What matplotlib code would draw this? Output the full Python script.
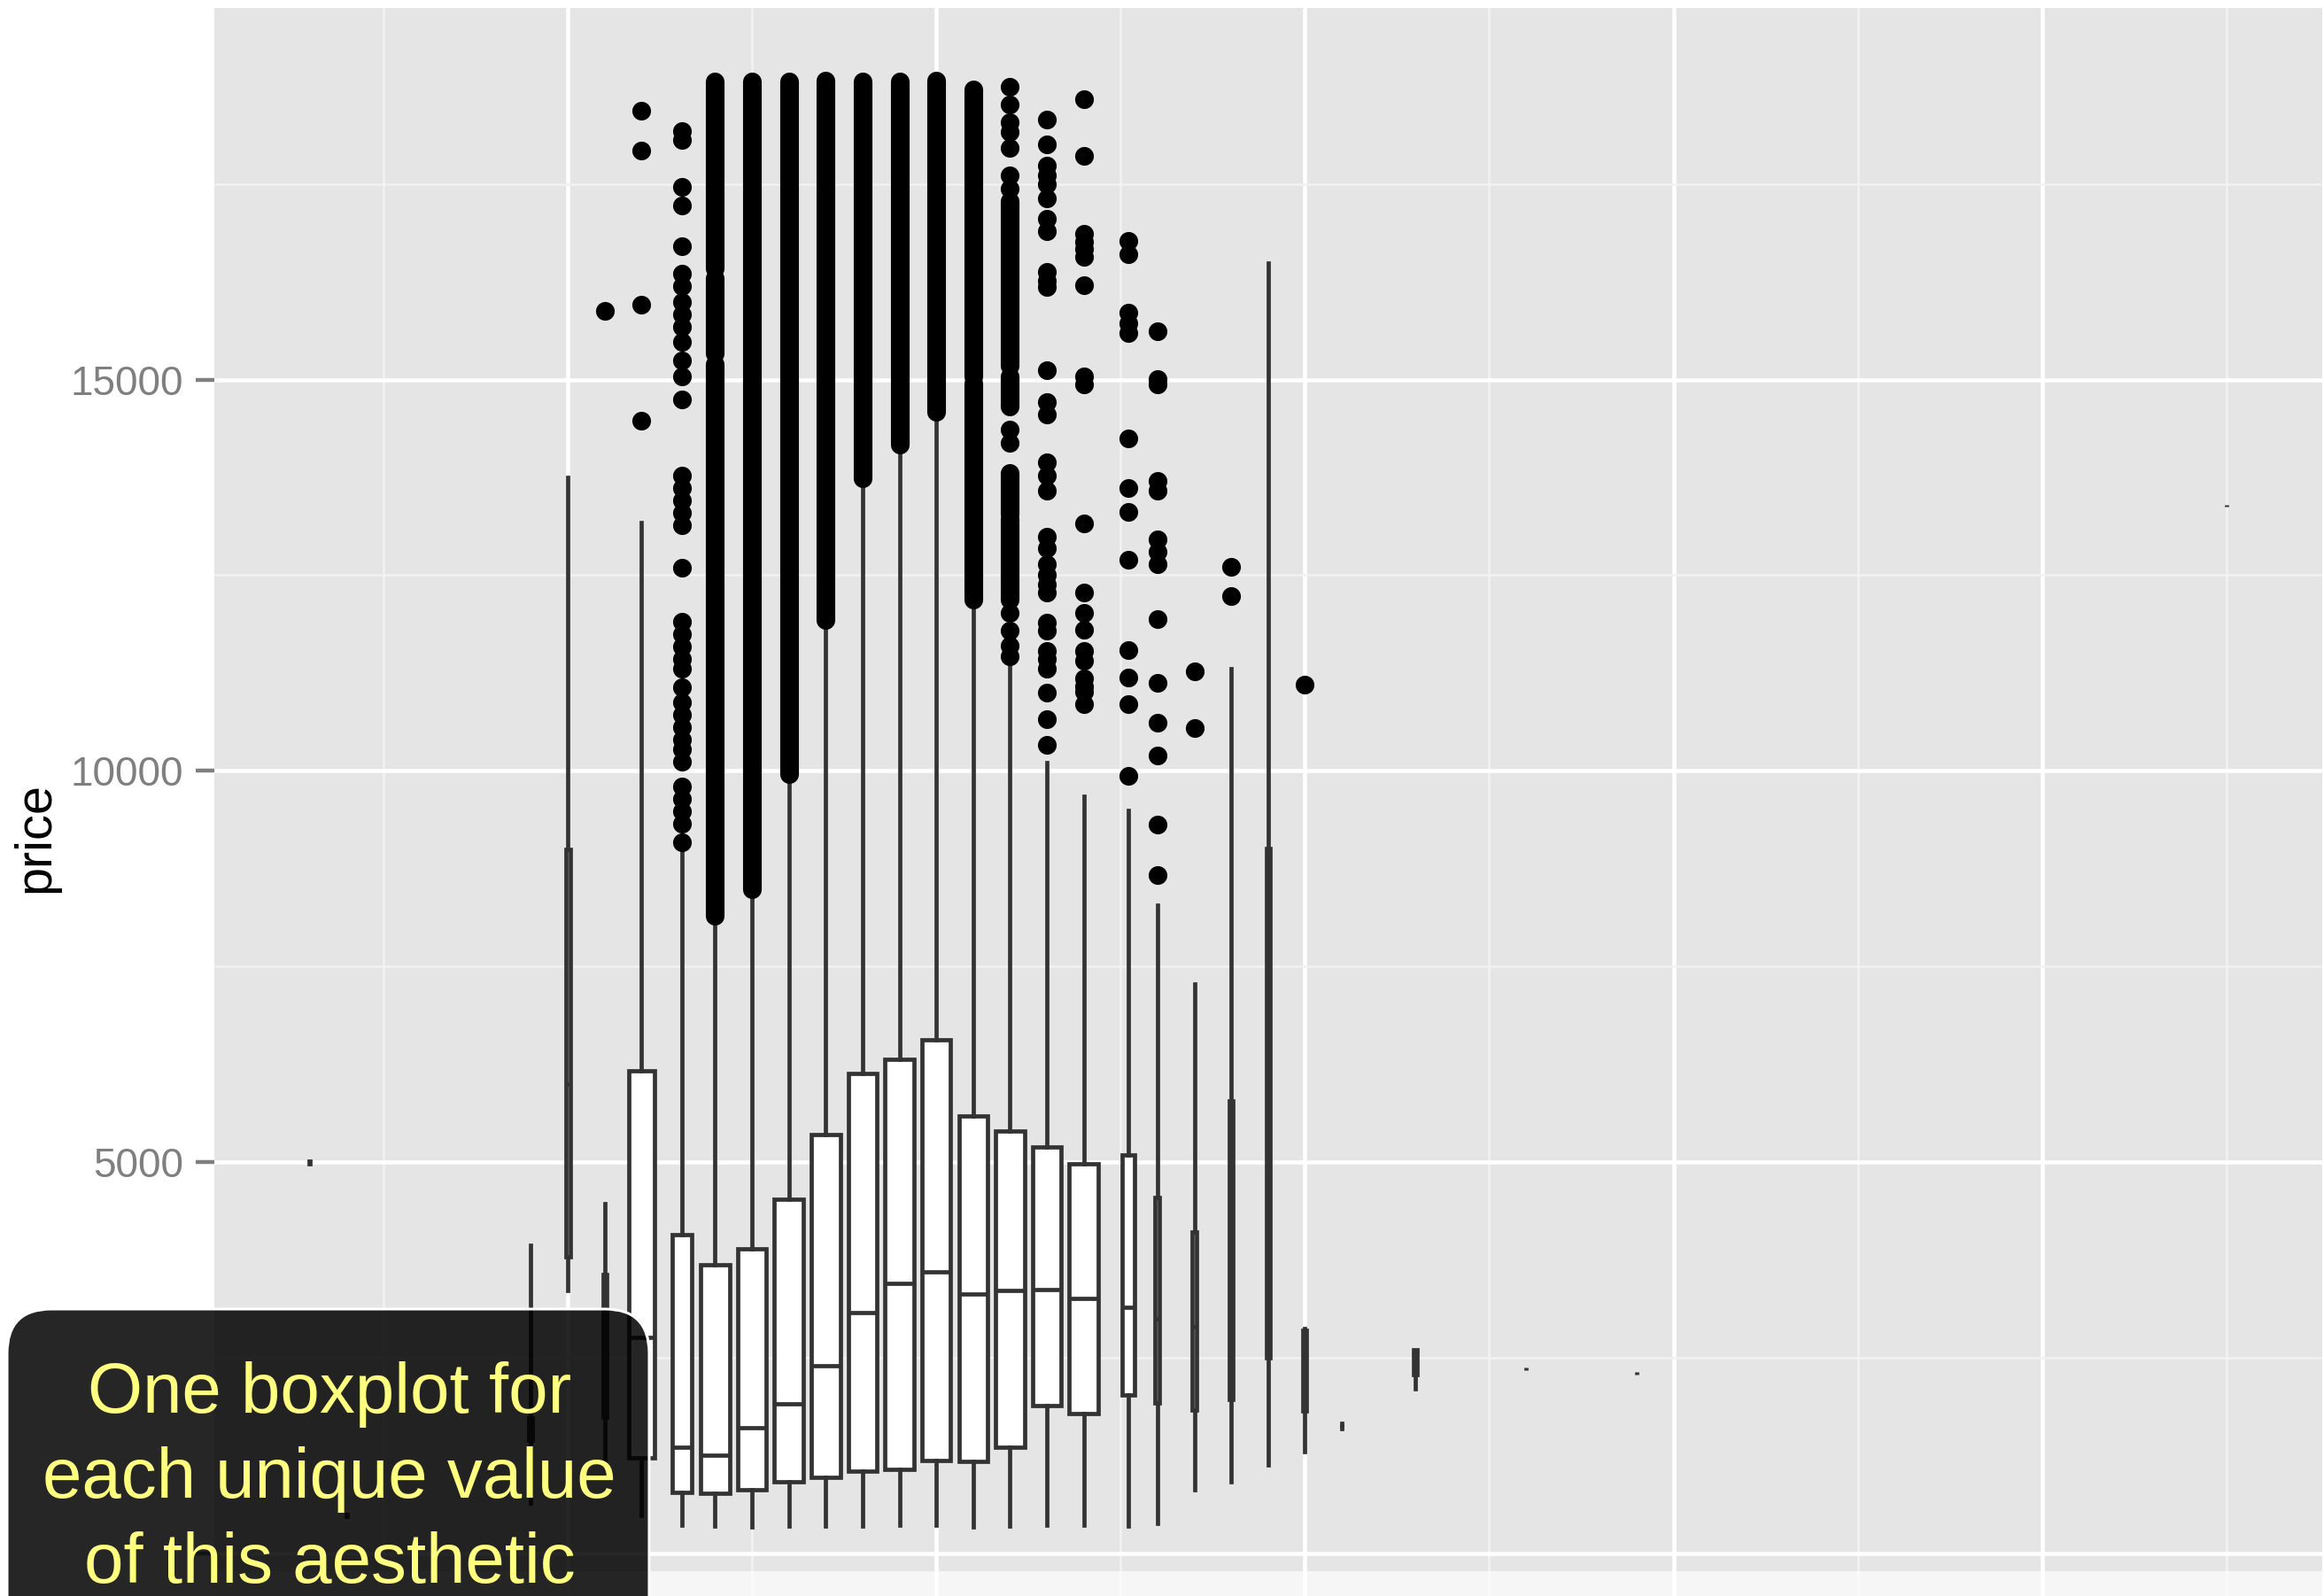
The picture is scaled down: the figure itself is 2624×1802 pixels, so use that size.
import matplotlib
matplotlib.use("Agg")
import matplotlib.pyplot as plt
from matplotlib.patches import FancyBboxPatch, Rectangle
from matplotlib.transforms import IdentityTransform

plt.rcParams['font.family'] = ['Liberation Sans', 'DejaVu Sans']

# price by table: one box for every distinct table value
table = [43, 44, 49, 50, 51, 52, 53.1, 54, 55, 56, 57, 58, 59, 60, 61, 62, 63,
         64, 65.2, 66, 67, 68, 69, 70, 71, 73, 76, 79, 95]
box_width = [0.01, 0.01, 0.1, 0.12, 0.1, 0.69, 0.52, 0.78, 0.78, 0.78, 0.78,
             0.78, 0.78, 0.78, 0.78, 0.78, 0.78, 0.78, 0.34, 0.12, 0.1, 0.1,
             0.1, 0.1, 0.02, 0.1, 0.01, 0.01, 0.01]
whisk_lo = [4985, 480, 650, 3360, 1165, 487, 367, 356, 341, 356, 356, 356, 366,
            367, 341, 356, 366, 366, 346, 382, 813, 914, 1128, 1305, 1600,
            2101, 2345, 2282, 13372]
q1 = [4985, 480, 1450, 3788, 1740, 1228, 787, 772, 813, 914, 975, 1051, 1076,
      1193, 1178, 1360, 1887, 1786, 2029, 1928, 1836, 1968, 2497, 1818, 1612,
      2290, 2345, 2282, 13372]
median = [4997, 490, 1600, 6000, 2600, 2763, 1355, 1259, 1613, 1912, 2399,
          3078, 3448, 3600, 3321, 3362, 3372, 3255, 3144, 3000, 2900, 3500,
          4500, 2200, 1633, 2450, 2361, 2299, 13387]
q3 = [5010, 500, 1730, 8997, 3560, 6170, 4071, 3686, 3894, 4533, 5348, 6134,
      6311, 6565, 5592, 5399, 5196, 4984, 5095, 4553, 4107, 5789, 9012, 2855,
      1655, 2603, 2378, 2316, 13400]
whisk_hi = [5010, 500, 3940, 13750, 4470, 13176, 8970, 8080, 8440, 9920,
            11880, 13700, 14120, 14540, 12140, 11403, 10104, 9682, 9494, 8284,
            7276, 11308, 16494, 2880, 1667, 2603, 2378, 2316, 13400]

# single outliers per table value
outliers = {
    51: [15876],
    52: [14470, 15955, 17924, 18432],
    53.1: [9089, 9327, 9486, 9644, 9803, 10121, 10279, 10398, 10557, 10716,
           10875, 11073, 11311, 11430, 11589, 11748, 11907, 12597, 13137,
           13296, 13455, 13613, 13772, 14741, 15042, 15241, 15479, 15677,
           15836, 15995, 16193, 16352, 16709, 17225, 17463, 18059, 18178],
    62: [11468, 11598, 11793, 12020, 14197, 14359, 17444, 17607, 17964,
         18159, 18289, 18516, 18744],
    63: [10331, 10656, 11000, 11306, 11435, 11533, 11793, 11890, 12280,
         12377, 12507, 12637, 12845, 12995, 13579, 13774, 13937, 14554,
         14716, 15119, 16178, 16262, 16372, 16892, 17055, 17315, 17496,
         17607, 17737, 18010, 18322],
    64: [10851, 11013, 11078, 11176, 11403, 11533, 11806, 12020, 12280,
         13157, 14944, 15041, 16210, 16567, 16665, 16762, 16860, 17854, 18581],
    65.2: [9942, 10851, 11195, 11546, 12702, 13307, 13612, 14249, 15593,
           15723, 15853, 16600, 16775],
    66: [8665, 9314, 10201, 10611, 11124, 11936, 12637, 12800, 12962, 13579,
         13709, 14943, 15009, 15613],
    67: [10546, 11274],
    68: [12235, 12605],
    70: [11106],
}

# stretches where outliers overlap into a solid column: (table, from, to)
outlier_runs = [
    (54, 8150, 15200), (54, 15330, 16300), (54, 16420, 18812),
    (55, 8493, 18813), (56, 9962, 18813), (57, 11923, 18818),
    (58, 13742, 18809), (59, 14164, 18809), (60, 14586, 18823),
    (61, 12183, 14950), (61, 15040, 18711),
    (62, 12183, 13222), (62, 13287, 13807), (62, 14651, 15041),
    (62, 15171, 17282),
]

y_major = [0, 5000, 10000, 15000]
y_labels = ['', '5000', '10000', '15000']   # 0 sits behind the callout
y_minor = [2500, 7500, 12500, 17500]
x_major = [50, 60, 70, 80, 90]
x_minor = [45, 55, 65, 75, 85, 95]

W, H = 2624, 1802
fig = plt.figure(figsize=(W / 100, H / 100), dpi=100)
ax = fig.add_axes([241.5 / W, -5 / H, 2380.5 / W, 1798 / H])
ax.set_facecolor('#e5e5e5')
for s in ax.spines.values():
    s.set_visible(False)
ax.set_xlim(40.4, 97.6)
ax.set_ylim(-599, 19748)

ax.set_xticks(x_major)
ax.set_xticks(x_minor, minor=True)
ax.set_yticks(y_major, labels=y_labels)
ax.set_yticks(y_minor, minor=True)
ax.grid(which='major', color='white', linewidth=3.3)
ax.grid(which='minor', color='#f2f2f2', linewidth=1.8)
ax.set_axisbelow(True)
ax.tick_params(axis='x', which='both', length=0, labelbottom=False)
ax.tick_params(axis='y', which='minor', length=0)
ax.tick_params(axis='y', which='major', length=15, width=3.2, color='#7f7f7f',
               labelsize=33, labelcolor='#7f7f7f', pad=10)

stats = []
for i, t in enumerate(table):
    stats.append(dict(med=median[i], q1=q1[i], q3=q3[i],
                      whislo=whisk_lo[i], whishi=whisk_hi[i],
                      fliers=outliers.get(t, [])))

edge = '#333333'
lw = 3.4
ax.bxp(stats, positions=table, widths=box_width, patch_artist=True,
       showcaps=False, manage_ticks=False,
       boxprops=dict(facecolor='white', edgecolor=edge, linewidth=lw),
       whiskerprops=dict(color=edge, linewidth=lw),
       medianprops=dict(color=edge, linewidth=lw),
       flierprops=dict(marker='o', markerfacecolor='black',
                       markeredgewidth=0, markersize=15.2))

ax.vlines([r[0] for r in outlier_runs], [r[1] for r in outlier_runs],
          [r[2] for r in outlier_runs], colors='black', linewidth=15.2,
          capstyle='round', zorder=3)

ax.set_ylabel('price', fontsize=41.5, color='black')
ax.yaxis.label.set_va('center')
ax.yaxis.set_label_coords(-0.0846, 0.4794)

# pale band along the bottom edge
fig.add_artist(Rectangle((0, 0), W, 28, transform=IdentityTransform(),
                         facecolor='white', alpha=0.69, edgecolor='none',
                         zorder=5))

# callout box
fig.add_artist(FancyBboxPatch((8, -100), 725, 424,
                              boxstyle='round,pad=0,rounding_size=50',
                              transform=IdentityTransform(),
                              facecolor=(0, 0, 0, 0.85), edgecolor='white',
                              linewidth=2.2, zorder=6))
callout = ['One boxplot for', 'each unique value', 'of this aesthetic']
for line, base in zip(callout, [1595, 1691, 1787]):
    fig.text(372 / W, 1 - base / H, line, ha='center', va='baseline',
             fontsize=57.5, color='#ffff80', zorder=7)

fig.savefig('out.png', dpi=100)
